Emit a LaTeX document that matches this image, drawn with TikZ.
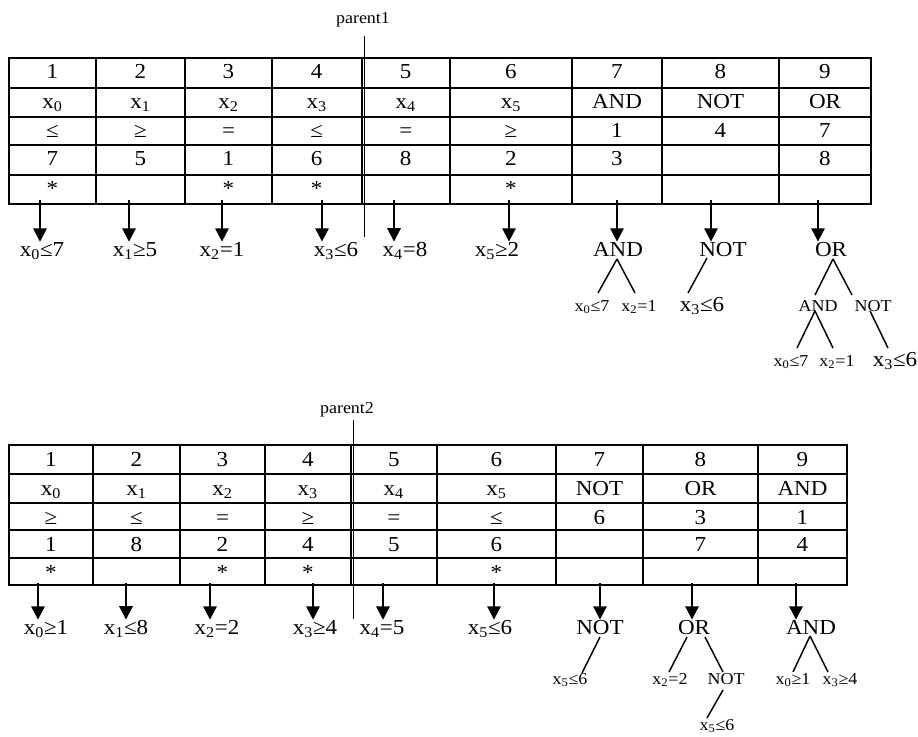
\documentclass[tikz,border=0pt]{standalone}
\usepackage{fontspec}
\setmainfont{Liberation Serif}[FakeStretch=1.08]
\usetikzlibrary{arrows.meta,calc}
\newcommand{\sx}[1]{x\textsubscript{#1}}
\begin{document}
\begin{tikzpicture}[x=0.75pt,y=-0.75pt,
  gridline/.style={line width=1.5pt},
  big/.style={font=\fontsize{16}{18}\selectfont, inner sep=0pt, anchor=base},
  small/.style={font=\fontsize{12.5}{14}\selectfont, inner sep=0pt, anchor=base},
  plabel/.style={font=\fontsize{12.5}{14}\selectfont, inner sep=0pt, anchor=base},
  arr/.style={line width=1.4pt, -{Triangle[length=10pt,width=10pt]}},
  tedge/.style={line width=1.1pt},
  pline/.style={line width=1.2pt}]
\useasboundingbox (0,0) rectangle (918,736);

% ---------------- table 1 ----------------
\draw[gridline] (9,58) rectangle (871,204);
\foreach \y in {88,117,145,175} \draw[gridline] (9,\y) -- (871,\y);
\foreach \x in {96,185,272,361.5,450,572,662,779} \draw[gridline] (\x,58) -- (\x,204);
\foreach \cx/\a/\b/\c/\d/\e [count=\i] in {
  52.5/1/\sx0/≤/7/*, 140.5/2/\sx1/≥/5/{}, 228.5/3/\sx2/=/1/*,
  316.75/4/\sx3/≤/6/*, 405.75/5/\sx4/=/8/{}, 511/6/\sx5/≥/2/*,
  617/7/AND/1/3/{}, 720.5/8/NOT/4/{}/{}, 825/9/OR/7/8/{}} {
  \node[big] (ta-\i-1) at (\cx,78) {\a};
  \node[big] (ta-\i-2) at (\cx,108) {\b};
  \node[big] (ta-\i-3) at (\cx,137) {\c};
  \node[big] (ta-\i-4) at (\cx,165) {\d};
  \node[big] (ta-\i-5) at (\cx,195) {\e};
}
\node[plabel] (p1) at (363,23) {parent1};
\draw[pline] ($(p1.base)+(1.5,13)$) -- ($(p1.base)+(1.5,214)$);

% arrows and labels, table 1
\foreach \ax/\lx/\t [count=\i] in {40/42/\sx0≤7, 129/135/\sx1≥5, 222/222/\sx2=1,
  322/336/\sx3≤6, 394/405/\sx4=8, 509/497/\sx5≥2, 617/618/AND, 711/723/NOT, 818/831/OR} {
  \coordinate (sa\i) at (\ax,200);
  \node[big] (la\i) at (\lx,256) {\t};
  \draw[arr] (sa\i) -- (sa\i |- la\i.north);
}
% trees, table 1
\node[small] (c1a) at (592,311) {\sx0≤7};
\node[small] (c1b) at (639,311) {\sx2=1};
\draw[tedge] ($(la7.base)+(-1,3)$) -- ($(c1a.base)+(6,-18)$);
\draw[tedge] ($(la7.base)+(-1,3)$) -- ($(c1b.base)+(-4,-18)$);
\node[big] (c2a) at (702,311) {\sx3≤6};
\draw[tedge] ($(la8.base)+(-16,2)$) -- ($(c2a.base)+(-14,-18)$);
\node[small] (c3a) at (818,311) {AND};
\node[small] (c3b) at (873,311) {NOT};
\draw[tedge] ($(la9.base)+(2,3)$) -- ($(c3a.base)+(-3,-16)$);
\draw[tedge] ($(la9.base)+(2,3)$) -- ($(c3b.base)+(-21,-16)$);
\node[small] (c4a) at (791,366) {\sx0≤7};
\node[small] (c4b) at (837,366) {\sx2=1};
\node[big] (c4c) at (895,366) {\sx3≤6};
\draw[tedge] ($(c3a.base)+(-3,0)$) -- ($(c4a.base)+(6,-18)$);
\draw[tedge] ($(c3a.base)+(-3,0)$) -- ($(c4b.base)+(-4,-18)$);
\draw[tedge] ($(c3b.base)+(-3,0)$) -- ($(c4c.base)+(-7,-18)$);

% ---------------- table 2 ----------------
\draw[gridline] (9,445) rectangle (847,585);
\foreach \y in {474,502.5,530,558} \draw[gridline] (9,\y) -- (847,\y);
\foreach \x in {93,180,265,350.7,437,556,643,758} \draw[gridline] (\x,445) -- (\x,585);
\foreach \cx/\a/\b/\c/\d/\e [count=\i] in {
  51/1/\sx0/≥/1/*, 136.5/2/\sx1/≤/8/{}, 222.5/3/\sx2/=/2/*,
  307.85/4/\sx3/≥/4/*, 393.85/5/\sx4/=/5/{}, 496.5/6/\sx5/≤/6/*,
  599.5/7/NOT/6/{}/{}, 700.5/8/OR/3/7/{}, 802.5/9/AND/1/4/{}} {
  \node[big] (tb-\i-1) at (\cx,466.5) {\a};
  \node[big] (tb-\i-2) at (\cx,495.5) {\b};
  \node[big] (tb-\i-3) at (\cx,524) {\c};
  \node[big] (tb-\i-4) at (\cx,551.5) {\d};
  \node[big] (tb-\i-5) at (\cx,579.5) {\e};
}
\node[plabel] (p2) at (347,413) {parent2};
\draw[pline] ($(p2.base)+(6.5,7)$) -- ($(p2.base)+(6.5,206)$);

% arrows and labels, table 2
\foreach \ax/\lx/\t [count=\i] in {38/46/\sx0≥1, 126/126/\sx1≤8, 210/217/\sx2=2,
  313/315/\sx3≥4, 383/382/\sx4=5, 494/490/\sx5≤6, 600/600/NOT, 692/694/OR, 796/811/AND} {
  \coordinate (sb\i) at (\ax,583);
  \node[big] (lb\i) at (\lx,634) {\t};
  \draw[arr] (sb\i) -- (sb\i |- lb\i.north);
}
% trees, table 2
\node[small] (d1a) at (570,684) {\sx5≤6};
\draw[tedge] ($(lb7.base)+(0,3)$) -- ($(d1a.base)+(12,-11)$);
\node[small] (d2a) at (670,684) {\sx2=2};
\node[small] (d2b) at (726,684) {NOT};
\draw[tedge] ($(lb8.base)+(-7,3)$) -- ($(d2a.base)+(-1,-12)$);
\draw[tedge] ($(lb8.base)+(11,3)$) -- ($(d2b.base)+(-3,-12)$);
\node[small] (d3a) at (717,730) {\sx5≤6};
\draw[tedge] ($(d2b.base)+(-3,6)$) -- ($(d3a.base)+(-10,-12)$);
\node[small] (d4a) at (793,684) {\sx0≥1};
\node[small] (d4b) at (840,684) {\sx3≥4};
\draw[tedge] ($(lb9.base)+(-1,2)$) -- ($(d4a.base)+(0,-12)$);
\draw[tedge] ($(lb9.base)+(-1,2)$) -- ($(d4b.base)+(-12,-12)$);
\end{tikzpicture}
\end{document}
